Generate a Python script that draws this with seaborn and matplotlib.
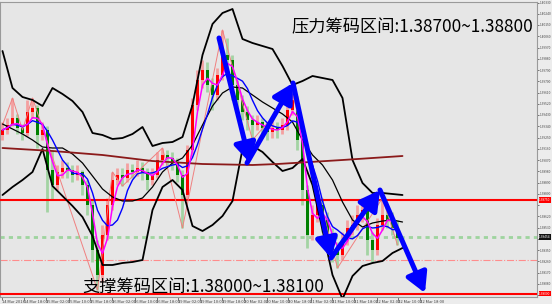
import numpy as np
import pandas as pd
import matplotlib
matplotlib.use("Agg")
import matplotlib.pyplot as plt
import matplotlib.transforms as mtransforms
import seaborn as sns

# ---------------- data ----------------
opens = [1.39270, 1.39310, 1.39350, 1.39406, 1.39326, 1.39286, 1.39454, 1.39486, 1.39270, 1.39310,
         1.38990, 1.38870, 1.38974, 1.39006, 1.38990, 1.38950, 1.38974, 1.38870, 1.38710, 1.38350,
         1.38150, 1.38470, 1.38710, 1.38910, 1.38950, 1.38926, 1.38990, 1.38974, 1.39006, 1.38974,
         1.38910, 1.38950, 1.39070, 1.39110, 1.39086, 1.39054, 1.38950, 1.38790, 1.39150, 1.39510,
         1.39710, 1.39790, 1.39670, 1.39590, 1.39750, 1.39910, 1.39870, 1.39670, 1.39550, 1.39454,
         1.39390, 1.39350, 1.39374, 1.39326, 1.39294, 1.39326, 1.39310, 1.39350, 1.39470, 1.39550,
         1.39230, 1.38830, 1.38470, 1.38630, 1.38710, 1.38590, 1.38470, 1.38350, 1.38310, 1.38430,
         1.38526, 1.38550, 1.38630, 1.38670, 1.38430, 1.38350, 1.38550, 1.38630, 1.38590, 1.38526]
closes = [1.39310, 1.39350, 1.39406, 1.39326, 1.39286, 1.39454, 1.39486, 1.39270, 1.39310, 1.38990,
          1.38870, 1.38974, 1.39006, 1.38990, 1.38950, 1.38974, 1.38870, 1.38710, 1.38350, 1.38150,
          1.38470, 1.38710, 1.38910, 1.38950, 1.38926, 1.38990, 1.38974, 1.39006, 1.38974, 1.38910,
          1.38950, 1.39070, 1.39110, 1.39086, 1.39054, 1.38950, 1.38790, 1.39150, 1.39510, 1.39710,
          1.39790, 1.39670, 1.39590, 1.39750, 1.39910, 1.39870, 1.39670, 1.39550, 1.39454, 1.39390,
          1.39350, 1.39374, 1.39326, 1.39294, 1.39326, 1.39310, 1.39350, 1.39470, 1.39550, 1.39230,
          1.38830, 1.38470, 1.38630, 1.38710, 1.38590, 1.38470, 1.38350, 1.38310, 1.38430, 1.38526,
          1.38550, 1.38630, 1.38670, 1.38430, 1.38350, 1.38550, 1.38630, 1.38590, 1.38526, 1.38446]
highs = [1.39374, 1.39406, 1.39566, 1.39438, 1.39358, 1.39550, 1.39566, 1.39510, 1.39374, 1.39342,
         1.39150, 1.39030, 1.39070, 1.39054, 1.39030, 1.39030, 1.38990, 1.38910, 1.38750, 1.38430,
         1.38550, 1.38766, 1.38974, 1.39006, 1.39006, 1.39046, 1.39038, 1.39070, 1.39054, 1.39006,
         1.39006, 1.39134, 1.39166, 1.39150, 1.39134, 1.39086, 1.38990, 1.39190, 1.39566, 1.39790,
         1.39870, 1.39854, 1.39726, 1.39806, 1.40110, 1.40046, 1.39910, 1.39710, 1.39590, 1.39502,
         1.39430, 1.39430, 1.39406, 1.39374, 1.39390, 1.39374, 1.39406, 1.39518, 1.39598, 1.39582,
         1.39270, 1.38870, 1.38710, 1.38790, 1.38766, 1.38654, 1.38526, 1.38414, 1.38494, 1.38590,
         1.38630, 1.38710, 1.38766, 1.38710, 1.38494, 1.38606, 1.38766, 1.38686, 1.38654, 1.38590]
lows = [1.39230, 1.39278, 1.39342, 1.39278, 1.39230, 1.39262, 1.39406, 1.39166, 1.39230, 1.38654,
        1.38750, 1.38830, 1.38926, 1.38926, 1.38894, 1.38910, 1.38790, 1.38630, 1.38254, 1.38030,
        1.38094, 1.38430, 1.38670, 1.38870, 1.38862, 1.38894, 1.38926, 1.38942, 1.38910, 1.38830,
        1.38870, 1.38926, 1.39030, 1.39030, 1.38990, 1.38894, 1.38526, 1.38750, 1.39110, 1.39470,
        1.39646, 1.39614, 1.39470, 1.39550, 1.39710, 1.39774, 1.39550, 1.39454, 1.39390, 1.39310,
        1.39230, 1.39310, 1.39262, 1.39230, 1.39246, 1.39246, 1.39278, 1.39310, 1.39430, 1.39150,
        1.38710, 1.38366, 1.38430, 1.38574, 1.38494, 1.38390, 1.38254, 1.38206, 1.38270, 1.38390,
        1.38470, 1.38510, 1.38574, 1.38310, 1.38254, 1.38310, 1.38510, 1.38526, 1.38470, 1.38390]

# Bollinger band readings, every second bar
band_idx = list(range(0, 81, 2))
bb_upper = [1.39942, 1.39646, 1.39574, 1.39550, 1.39502, 1.39646, 1.39598, 1.39542, 1.39454, 1.39286,
            1.39270, 1.39238, 1.39246, 1.39278, 1.39334, 1.39182, 1.39206, 1.39214, 1.39254, 1.39510,
            1.39910, 1.40158, 1.40246, 1.40278, 1.40038, 1.40006, 1.39982, 1.39958, 1.39822, 1.39670,
            1.39702, 1.39742, 1.39726, 1.39710, 1.39566, 1.39070, 1.38886, 1.38806, 1.38806, 1.38798,
            1.38790]
bb_middle = [1.39358, 1.39318, 1.39278, 1.39230, 1.39174, 1.39166, 1.39166, 1.39118, 1.39046, 1.38942,
             1.38838, 1.38774, 1.38742, 1.38742, 1.38766, 1.38854, 1.38974, 1.39046, 1.39086, 1.39190,
             1.39350, 1.39502, 1.39606, 1.39654, 1.39646, 1.39590, 1.39534, 1.39486, 1.39438, 1.39374,
             1.39230, 1.39110, 1.39030, 1.38910, 1.38734, 1.38590, 1.38534, 1.38566, 1.38582, 1.38590,
             1.38574]
bb_lower = [1.38790, 1.38854, 1.38910, 1.38974, 1.39158, 1.38862, 1.38782, 1.38702, 1.38614, 1.38462,
            1.38230, 1.38230, 1.38246, 1.38254, 1.38270, 1.38670, 1.38854, 1.38910, 1.38830, 1.38542,
            1.38502, 1.38550, 1.38622, 1.38742, 1.39158, 1.39182, 1.39134, 1.39054, 1.38982, 1.39006,
            1.39078, 1.38870, 1.38510, 1.38150, 1.37958, 1.38142, 1.38222, 1.38246, 1.38262, 1.38326,
            1.38366]

# long moving average (brown)
long_ma_idx = [0, 10, 20, 30, 40, 50, 55, 68, 80]
long_ma = [1.39166, 1.39142, 1.39110, 1.39062, 1.39038, 1.39030, 1.39038, 1.39070, 1.39102]

# ZigZag pivots
zz_idx = [0, 2, 4, 6, 19, 22, 24, 32, 36, 44, 50, 58, 67, 76, 79]
zz_price = [1.39350, 1.39566, 1.39310, 1.39566, 1.38030, 1.38974, 1.38862, 1.39166, 1.38526, 1.40110,
            1.39230, 1.39598, 1.38206, 1.38766, 1.38390]

# hand-drawn blue arrows (bar index, price)
arrow_from = [(43.3, 1.40046), (48.9, 1.39046), (58.1, 1.39686), (65.7, 1.38286), (75.5, 1.38830)]
arrow_to = [(49.5, 1.39046), (58.1, 1.39686), (65.7, 1.38286), (75.5, 1.38830), (84.5, 1.38006)]

# horizontal levels
resist_line = 1.38750
support_line = 1.38000
green_level = 1.38454
pink_level = 1.38270

resist_text = "压力筹码区间:1.38700~1.38800"
support_text = "支撑筹码区间:1.38000~1.38100"

date_labels = ['14 Mar 2018', '14 Mar 18:00', '15 Mar 02:00', '15 Mar 10:00', '15 Mar 18:00',
               '16 Mar 02:00', '16 Mar 10:00', '16 Mar 18:00', '19 Mar 02:00', '19 Mar 10:00',
               '19 Mar 18:00', '20 Mar 02:00', '20 Mar 10:00', '20 Mar 18:00', '21 Mar 02:00',
               '21 Mar 10:00', '21 Mar 18:00', '22 Mar 02:00', '22 Mar 10:00', '22 Mar 18:00']
price_ticks_top = 1.40330
price_tick_step = 0.00090
n_price_ticks = 27

# ---------------- drawing ----------------
sns.set_style("white")
plt.rcParams['font.family'] = ['Noto Sans CJK SC', 'DejaVu Sans']

fig = plt.figure(figsize=(5.52, 3.04), dpi=100, facecolor='#ececec')
ax = fig.add_axes([0.0, 7 / 304, 537 / 552, 295 / 304])
ax.set_facecolor('#e6e6e6')

o = np.array(opens); c = np.array(closes); h = np.array(highs); l = np.array(lows)
xi = np.arange(len(c))
up = c >= o

# candles
ax.vlines(xi, l, h, colors=np.where(up, '#f4a0a0', '#a3d3a3'), lw=2.0, zorder=2)
body_h = np.maximum(np.abs(c - o), 0.00003)
ax.bar(xi, body_h, bottom=np.minimum(o, c), width=0.45,
       color=np.where(up, '#ff0000', '#008000'), zorder=3, linewidth=0)

# levels
ax.axhline(green_level, color='#9ed49e', lw=2.0, ls=(0, (1.5, 1.5)), zorder=1)
ax.axhline(pink_level, color='#ff8c8c', lw=0.8, ls='-.', zorder=1)
ax.axhline(resist_line, color='#ff0000', lw=1.5, zorder=4)
ax.axhline(support_line, color='#ff0000', lw=1.5, zorder=4)

# indicators
bands = pd.DataFrame({'idx': band_idx, 'upper': bb_upper, 'middle': bb_middle, 'lower': bb_lower})
sns.lineplot(data=bands, x='idx', y='upper', ax=ax, color='black', lw=1.3, zorder=5)
sns.lineplot(data=bands, x='idx', y='lower', ax=ax, color='black', lw=1.3, zorder=5)
sns.lineplot(data=bands, x='idx', y='middle', ax=ax, color='black', lw=0.9, zorder=5)

sns.lineplot(x=long_ma_idx, y=long_ma, ax=ax, color='#8b1a1a', lw=1.3, zorder=5)
sns.lineplot(x=zz_idx, y=zz_price, ax=ax, color='#f08080', lw=0.7, zorder=4, sort=False, estimator=None)

cs = pd.Series(c)
sns.lineplot(x=xi, y=cs.rolling(6, min_periods=1).mean(), ax=ax, color='#0000ff', lw=1.0, zorder=6)
sns.lineplot(x=xi, y=cs.rolling(3, min_periods=1).mean(), ax=ax, color='#ff00ff', lw=1.1, zorder=6)

# arrows
for (x0, y0), (x1, y1) in zip(arrow_from, arrow_to):
    ax.annotate('', xy=(x1, y1), xytext=(x0, y0),
                arrowprops=dict(arrowstyle='-|>,head_length=0.9,head_width=0.5', lw=3.6,
                                color='#0000ff', mutation_scale=13, shrinkA=0, shrinkB=0),
                zorder=8)

# texts
ax.text(291 / 537, (297 - 27) / 295, resist_text, transform=ax.transAxes, fontsize=12.4,
        va='center', ha='left', color='black', zorder=9)
ax.text(82 / 537, (297 - 287) / 295, support_text, transform=ax.transAxes, fontsize=12.4,
        va='center', ha='left', color='black', zorder=9)

# axes
ax.set_xlim(-0.5, 106.9)
ax.set_ylim(1.37974, 1.40334)
ax.set_xlabel(''); ax.set_ylabel('')

highlight = [resist_line, support_line, green_level]
yt = [price_ticks_top - k * price_tick_step for k in range(n_price_ticks)]
ax.yaxis.tick_right()
ax.set_yticks(yt)
ax.set_yticklabels(['' if min(abs(v - hv) for hv in highlight) < 0.00045 else f'{v:.5f}' for v in yt])
ax.tick_params(axis='y', labelsize=2.3, length=1.5, width=0.5, pad=0.8, colors='#444444', right=True)

xt = [k * 4.4 for k in range(len(date_labels))]
ax.set_xticks(xt)
ax.set_xticklabels(date_labels, ha='left')
ax.tick_params(axis='x', labelsize=3.0, length=2, width=0.5, pad=0.5, colors='#444444', bottom=True)

for s in ax.spines.values():
    s.set_color('#9a9a9a'); s.set_linewidth(0.8)

tr = mtransforms.blended_transform_factory(ax.transAxes, ax.transData)
for val, fc in [(resist_line, '#ff0000'), (support_line, '#ff0000'), (green_level, '#111111')]:
    ax.text(1.004, val, f'{val:.5f}', transform=tr, fontsize=2.3, color='white', va='center',
            ha='left', clip_on=False, zorder=10,
            bbox=dict(boxstyle='square,pad=0.2', fc=fc, ec='none'))

fig.savefig('out.png', dpi=100, facecolor=fig.get_facecolor())
